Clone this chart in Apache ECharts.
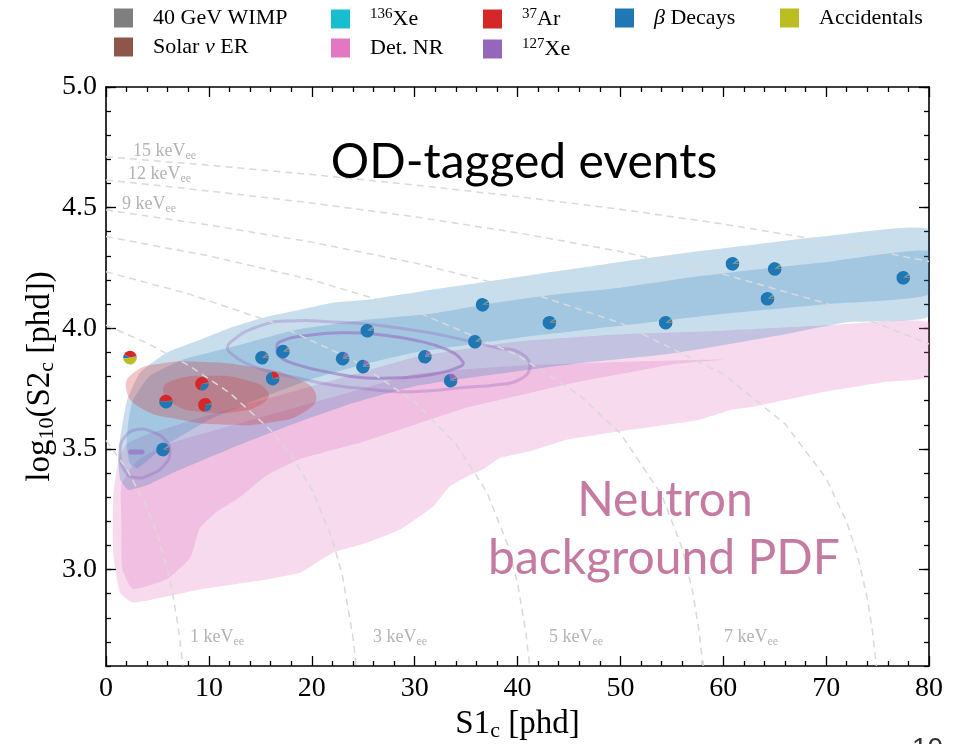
<!DOCTYPE html>
<html><head><meta charset="utf-8">
<script src="https://cdn.jsdelivr.net/npm/echarts@6/dist/echarts.min.js"></script>
<style>html,body{margin:0;padding:0;background:#fff}#c{width:969px;height:744px}</style>
</head><body><div id="c"></div><script>
// ---------- event data ----------
const s1    = [2.33,5.83,9.33,9.62,5.54,15.16,17.2,16.2,23.0,24.98,25.4,31.0,33.5,35.86,36.6,43.1,54.4,60.9,65.0,64.3,77.5];
const logS2 = [3.878,3.696,3.770,3.683,3.497,3.878,3.903,3.791,3.874,3.841,3.990,3.882,3.783,3.944,4.097,4.023,4.023,4.267,4.246,4.122,4.209];
// per-event model fractions (pie wedges)
const fracWIMP  = [.01,.01,.01,.01,.02,.02,.02,.01,.02,.02,.02,.02,.02,.02,.02,.02,.02,.02,.02,.02,.02];
const fracSolar = [.02,.02,.02,.02,.04,.04,.04,.03,.04,.04,.04,.04,.04,.04,.05,.05,.05,.05,.05,.05,.05];
const fracXe136 = [.01,.01,.01,.01,.03,.03,.03,.01,.03,.03,.03,.03,.03,.03,.03,.04,.04,.04,.04,.04,.04];
const fracDetNR = [0,0,0,0,.01,0,0,0,0,0,0,0,.01,0,0,0,0,0,0,0,0];
const fracAr37  = [.38,.45,.66,.72,.01,.02,.01,.22,0,0,0,0,0,0,0,0,0,0,0,0,0];
const fracXe127 = [0,0,0,0,0,.01,.02,0,.10,.12,.02,.10,.18,.02,0,0,0,0,0,0,0];
const fracBeta  = [.10,.51,.30,.24,.89,.88,.88,.72,.81,.79,.89,.81,.72,.89,.90,.89,.89,.89,.89,.89,.89];
const fracAcc   = [.48,0,0,0,0,0,0,0,0,0,0,0,0,0,0,0,0,0,0,0,0];

// ---------- model regions (S1c, log10 S2c) ----------
const betaOuter = [[1.2,3.45],[1.36,3.54],[2.04,3.70],[3.3,3.816],[5.93,3.899],[9.14,3.952],[12.34,4.006],[15.65,4.048],[18.86,4.077],[22.06,4.106],[25.36,4.118],[31.49,4.159],[37.03,4.193],[43.44,4.234],[49.95,4.275],[56.46,4.313],[62.88,4.346],[69.39,4.379],[80,4.41],
  [80,4.05],[72,4.025],[66,3.975],[60,3.93],[54,3.89],[46,3.855],[38,3.81],[30,3.76],[24,3.69],[18,3.60],[12,3.50],[7,3.41],[4,3.35],[2.2,3.33],[1.4,3.37]];
const betaInner = [[2.0,3.52],[2.2,3.62],[2.6,3.70],[4.2,3.80],[7.5,3.87],[12.3,3.923],[18.5,3.994],[25.3,4.035],[31.5,4.06],[37,4.10],[43.4,4.139],[50,4.168],[56.5,4.209],[63,4.242],[69.4,4.271],[80,4.32],
  [80,4.14],[70,4.10],[60,4.06],[50,4.01],[40,3.96],[30,3.90],[25,3.85],[20,3.79],[15,3.71],[10,3.62],[6,3.52],[4,3.45],[3,3.42],[2.3,3.44]];
const nrOuter = [[0.7,3.30],[1.2,3.45],[2,3.52],[4,3.56],[7,3.60],[10,3.64],[15,3.70],[20,3.76],[25,3.82],[30,3.88],[35,3.915],[40,3.945],[50,3.975],[60,3.99],[70,4.012],[80,4.025],
  [80,3.80],[75.9,3.778],[69.4,3.733],[62.9,3.675],[60.9,3.663],[57.7,3.621],[51.2,3.58],[44.8,3.538],[41.2,3.49],[38.3,3.462],[36.6,3.414],[35.1,3.385],[33.4,3.344],[31.8,3.261],[28.6,3.166],[25.4,3.112],[22.1,3.07],[20.5,3.029],[18.9,2.988],[15.6,2.959],[12.3,2.938],[9.1,2.917],[5.9,2.888],[2.6,2.863],[1.36,2.905],[0.7,3.07]];
const nrInner = [[1.5,3.35],[3,3.45],[6,3.52],[10,3.57],[15,3.63],[20,3.69],[25,3.75],[30,3.81],[35,3.83],[40,3.845],[50,3.86],[60,3.87],
  [55,3.85],[50,3.81],[45,3.77],[40,3.72],[35,3.67],[30,3.60],[25,3.53],[19,3.46],[15.6,3.39],[13,3.30],[10.8,3.24],[9.1,3.17],[8.2,3.05],[5.9,2.96],[2.6,2.92],[1.6,3.0],[1.5,3.2]];
const ar37Outer = [[1.94,3.754],[2.82,3.820],[5.25,3.853],[9.14,3.861],[14.0,3.841],[18.37,3.795],[20.41,3.725],[19.34,3.654],[15.94,3.609],[12.05,3.600],[7.19,3.621],[3.30,3.671]];
const ar37Inner = [[5.54,3.745],[6.71,3.787],[10.1,3.803],[13.5,3.787],[15.74,3.737],[15.16,3.687],[12.54,3.654],[9.14,3.654],[6.71,3.683]];
const xe127Outer = [[12.05,3.940],[15.26,4.014],[18.56,4.031],[21.77,4.027],[24.98,4.019],[28.28,4.002],[31.49,3.981],[34.69,3.952],[38.0,3.919],[40.2,3.899],[41.2,3.841],[40.2,3.787],[38.0,3.766],[34.69,3.754],[31.49,3.741],[28.28,3.737],[24.98,3.75],[21.77,3.766],[18.56,3.795],[15.26,3.828],[12.05,3.899]];
const xe127Inner = [[16.62,3.911],[16.91,3.944],[20.12,3.973],[23.42,3.981],[26.63,3.973],[29.83,3.952],[33.14,3.911],[34.69,3.861],[34.4,3.841],[31.49,3.807],[28.28,3.795],[24.98,3.795],[21.77,3.816],[18.56,3.849],[16.91,3.882]];
const xe127Ring = [[1.36,3.489],[1.85,3.551],[3.01,3.580],[4.47,3.571],[5.73,3.538],[6.22,3.489],[5.73,3.435],[4.28,3.393],[2.82,3.381],[1.75,3.414]];
const xe127Blob = [[2.4,3.487],[3.5,3.487]];

// ---------- iso-energy contours ----------
const keVLabels = ['1','3','5','7','9','12','15'];
const keV1  = [[0,3.535],[2,3.418],[4,3.256],[5,3.145],[6,2.996],[6.5,2.895],[7,2.766],[7.3,2.664],[7.45,2.602]];
const keV3  = [[0,4.013],[4,3.938],[8,3.847],[12,3.733],[16,3.578],[18,3.473],[20,3.333],[22,3.127],[23,2.971],[24,2.721],[24.32,2.6]];
const keV5  = [[0,4.234],[8,4.143],[16,4.027],[24,3.869],[30,3.695],[34,3.521],[37,3.322],[39,3.108],[40,2.944],[40.8,2.744],[41.18,2.6]];
const keV7  = [[0,4.380],[10,4.300],[20,4.201],[30,4.072],[40,3.889],[46,3.724],[50,3.564],[54,3.310],[56,3.089],[57,2.913],[57.6,2.758],[58.03,2.6]];
const keV9  = [[0,4.490],[10,4.428],[20,4.357],[30,4.271],[40,4.164],[50,4.022],[60,3.810],[66,3.604],[70,3.378],[72,3.197],[73,3.067],[74,2.881],[74.5,2.747],[74.89,2.6]];
const keV12 = [[0,4.615],[10,4.569],[20,4.519],[30,4.462],[40,4.396],[50,4.318],[60,4.224],[70,4.103],[80,3.935]];
const keV15 = [[0,4.711],[10,4.676],[20,4.637],[30,4.594],[40,4.546],[50,4.493],[60,4.432],[70,4.361],[80,4.277]];
const keVLines = [keV1,keV3,keV5,keV7,keV9,keV12,keV15];

// ---------- axes ----------
const xTicks = [0,10,20,30,40,50,60,70,80];
const yTicks = [3.0,3.5,4.0,4.5,5.0];

const components = [
  {name:'40 GeV WIMP', color:'#7f7f7f', frac:fracWIMP},
  {name:'Solar ν ER', color:'#8c564b', frac:fracSolar},
  {name:'136Xe', color:'#17becf', frac:fracXe136},
  {name:'Det. NR', color:'#e377c2', frac:fracDetNR},
  {name:'37Ar', color:'#d62728', frac:fracAr37},
  {name:'127Xe', color:'#9467bd', frac:fracXe127},
  {name:'β Decays', color:'#1f77b4', frac:fracBeta},
  {name:'Accidentals', color:'#bcbd22', frac:fracAcc}
];

const SERIF = 'Liberation Serif';
const chart = echarts.init(document.getElementById('c'), null, {renderer:'canvas'});

function region(pts, style, z, smooth, closed) {
  return {
    type:'custom', coordinateSystem:'cartesian2d', xAxisIndex:0, yAxisIndex:0,
    silent:true, z:z, clip:true, data:[[pts[0][0], pts[0][1]]],
    renderItem:function(p, api){
      return {type: closed === false ? 'polyline' : 'polygon',
        shape:{points: pts.map(q => api.coord(q)), smooth: smooth},
        style: style};
    }
  };
}

const pieSeries = {
  type:'custom', coordinateSystem:'cartesian2d', xAxisIndex:0, yAxisIndex:0, z:10, silent:true,
  data: s1.map((x,i) => [x, logS2[i], i]),
  encode:{x:0, y:1},
  renderItem:function(params, api){
    const i = api.value(2);
    const c = api.coord([api.value(0), api.value(1)]);
    const fr = components.map(k => k.frac[i]);
    const tot = fr.reduce((a,b) => a+b, 0);
    let a0 = 0; const children = [];
    components.forEach((k,j) => {
      const f = fr[j]/tot; if (f <= 0) return;
      const a1 = a0 + f*2*Math.PI;
      children.push({type:'sector', shape:{cx:c[0], cy:c[1], r0:0, r:6.8, startAngle:-a0, endAngle:-a1, clockwise:false},
        style:{fill:k.color}});
      a0 = a1;
    });
    return {type:'group', children:children};
  }
};

const legendSeries = components.map(k => ({type:'scatter', name:k.name, data:[], itemStyle:{color:k.color, opacity:1}}));

const legendRich = {
  t:{fontFamily:SERIF, fontSize:22, color:'#000', lineHeight:24},
  it:{fontFamily:SERIF, fontSize:22, fontStyle:'italic', color:'#000', lineHeight:24},
  sup:{fontFamily:SERIF, fontSize:15, color:'#000', lineHeight:14, verticalAlign:'top'}
};
function legendFmt(n){
  if (n === '136Xe') return '{sup|136}{t|Xe}';
  if (n === '37Ar') return '{sup|37}{t|Ar}';
  if (n === '127Xe') return '{sup|127}{t|Xe}';
  if (n === 'β Decays') return '{it|β}{t| Decays}';
  if (n === 'Solar ν ER') return '{t|Solar }{it|ν}{t| ER}';
  return '{t|' + n + '}';
}
function mkLegend(left, names){
  return {left:left, top:7, orient:'vertical', itemGap:7, itemWidth:19, itemHeight:19, icon:'rect', padding:0,
    selectedMode:false, data:names, formatter:legendFmt,
    itemStyle:{opacity:1},
    textStyle:{fontFamily:SERIF, fontSize:22, color:'#000', padding:[0,0,0,15], rich:legendRich}};
}

const lineSeries = keVLines.map((pts,i) => ({
  type:'line', name:'E'+keVLabels[i], data:pts, xAxisIndex:0, yAxisIndex:0, symbol:'none', silent:true, z:5,
  lineStyle:{color:'#d9d9d9', width:1.5, type:[7,5]}, smooth:false
}));

const axisLine = {show:true, onZero:false, lineStyle:{color:'#000', width:1.6}};
const tickStyle = {color:'#000', width:1.3};
function xAx(pos, labels){
  return {type:'value', min:0, max:80, interval:10, position:pos, axisLine:axisLine,
    axisTick:{show:true, inside:true, length:10, lineStyle:tickStyle},
    minorTick:{show:true, splitNumber:5, length:5, lineStyle:tickStyle},
    splitLine:{show:false}, minorSplitLine:{show:false},
    axisLabel: labels ? {show:true, fontFamily:SERIF, fontSize:28, color:'#000', margin:9, customValues:xTicks} : {show:false}};
}
function yAx(pos, major, labels){
  const o = {type:'value', min:2.6, max:5.0, interval:0.1, position:pos,
    axisLine: major ? {show:false, onZero:false} : axisLine,
    splitLine:{show:false},
    axisTick: major ? {show:true, inside:true, length:10, lineStyle:tickStyle, customValues:yTicks}
                    : {show:true, inside:true, length:5, lineStyle:tickStyle},
    axisLabel: labels ? {show:true, fontFamily:SERIF, fontSize:28, color:'#000', margin:9, customValues:yTicks,
                          formatter:v => Number(v).toFixed(1)} : {show:false}};
  return o;
}

const x0 = xAx('bottom', true);
x0.name = '{n|S1}{s|c}{n| [phd]}';
x0.nameLocation = 'middle'; x0.nameGap = 40;
x0.nameTextStyle = {rich:{n:{fontFamily:SERIF, fontSize:33, color:'#000', lineHeight:36},
                          s:{fontFamily:SERIF, fontSize:22, color:'#000', lineHeight:20, verticalAlign:'bottom'}}};
const y0 = yAx('left', false, false);
y0.name = '{n|log}{s|10}{n|(S2}{s|c}{n| [phd])}';
y0.nameLocation = 'middle'; y0.nameGap = 48;
y0.nameTextStyle = {rich:{n:{fontFamily:SERIF, fontSize:33, color:'#000', lineHeight:36},
                          s:{fontFamily:SERIF, fontSize:22, color:'#000', lineHeight:20, verticalAlign:'bottom'}}};

const labelColor = '#b3b3b3';
function keVText(x, y, txt){
  return {type:'text', x:x, y:y, silent:true, z:20,
    style:{text:'{n|' + txt + ' keV}{s|ee}', verticalAlign:'middle', textVerticalAlign:'middle',
      rich:{n:{fontFamily:SERIF, fontSize:18, fill:labelColor, lineHeight:22},
            s:{fontFamily:SERIF, fontSize:12, fill:labelColor, lineHeight:12, verticalAlign:'bottom'}}}};
}

const option = {
  animation:false,
  backgroundColor:'#fff',
  grid:{left:106, right:40, top:87, bottom:78, outerBoundsMode:'none', containLabel:false},
  legend:[
    mkLegend(114, ['40 GeV WIMP','Solar ν ER']),
    mkLegend(331, ['136Xe','Det. NR']),
    mkLegend(483, ['37Ar','127Xe']),
    mkLegend(615, ['β Decays']),
    mkLegend(780, ['Accidentals'])
  ],
  xAxis:[x0, xAx('top', false)],
  yAxis:[y0, yAx('left', true, true), yAx('right', false, false), yAx('right', true, false)],
  series:[
    region(nrOuter, {fill:'rgba(227,119,194,0.27)'}, 1, 0.15),
    region(nrInner, {fill:'rgba(227,119,194,0.27)'}, 1, 0.15),
    region(betaOuter, {fill:'rgba(31,119,180,0.24)'}, 2, 0.15),
    region(betaInner, {fill:'rgba(31,119,180,0.22)'}, 2, 0.15),
    region(ar37Outer, {fill:'rgba(214,39,40,0.27)'}, 3, 0.5),
    region(ar37Inner, {fill:'rgba(214,39,40,0.25)'}, 3, 0.5),
    region(xe127Outer, {fill:'none', stroke:'rgba(148,103,189,0.32)', lineWidth:3}, 4, 0.5),
    region(xe127Inner, {fill:'none', stroke:'rgba(148,103,189,0.55)', lineWidth:3}, 4, 0.5),
    region(xe127Ring, {fill:'none', stroke:'rgba(148,103,189,0.35)', lineWidth:3}, 4, 0.5),
    region(xe127Blob, {fill:'none', stroke:'rgba(148,103,189,0.6)', lineWidth:5, lineCap:'round'}, 4, 0, false),
    ...lineSeries,
    pieSeries,
    ...legendSeries
  ],
  graphic:[
    {type:'text', x:524, y:163, z:20, silent:true, style:{text:'OD-tagged events', font:'48px Lato', fill:'#000', align:'center', textAlign:'center', verticalAlign:'middle', textVerticalAlign:'middle'}},
    {type:'text', x:665, y:501, z:20, silent:true, style:{text:'Neutron', font:'48px Lato', fill:'#c57aa1', align:'center', textAlign:'center', verticalAlign:'middle', textVerticalAlign:'middle'}},
    {type:'text', x:664, y:559, z:20, silent:true, style:{text:'background PDF', font:'48px Lato', fill:'#c57aa1', align:'center', textAlign:'center', verticalAlign:'middle', textVerticalAlign:'middle'}},
    keVText(133, 151, '15'),
    keVText(128, 174, '12'),
    keVText(122, 204, '9'),
    keVText(190, 637, '1'),
    keVText(373, 637, '3'),
    keVText(549, 637, '5'),
    keVText(724, 637, '7'),
    {type:'text', x:912, y:735, silent:true, style:{text:'10', font:'28px "Liberation Sans"', fill:'#333'}}
  ]
};
chart.setOption(option);
</script></body></html>
